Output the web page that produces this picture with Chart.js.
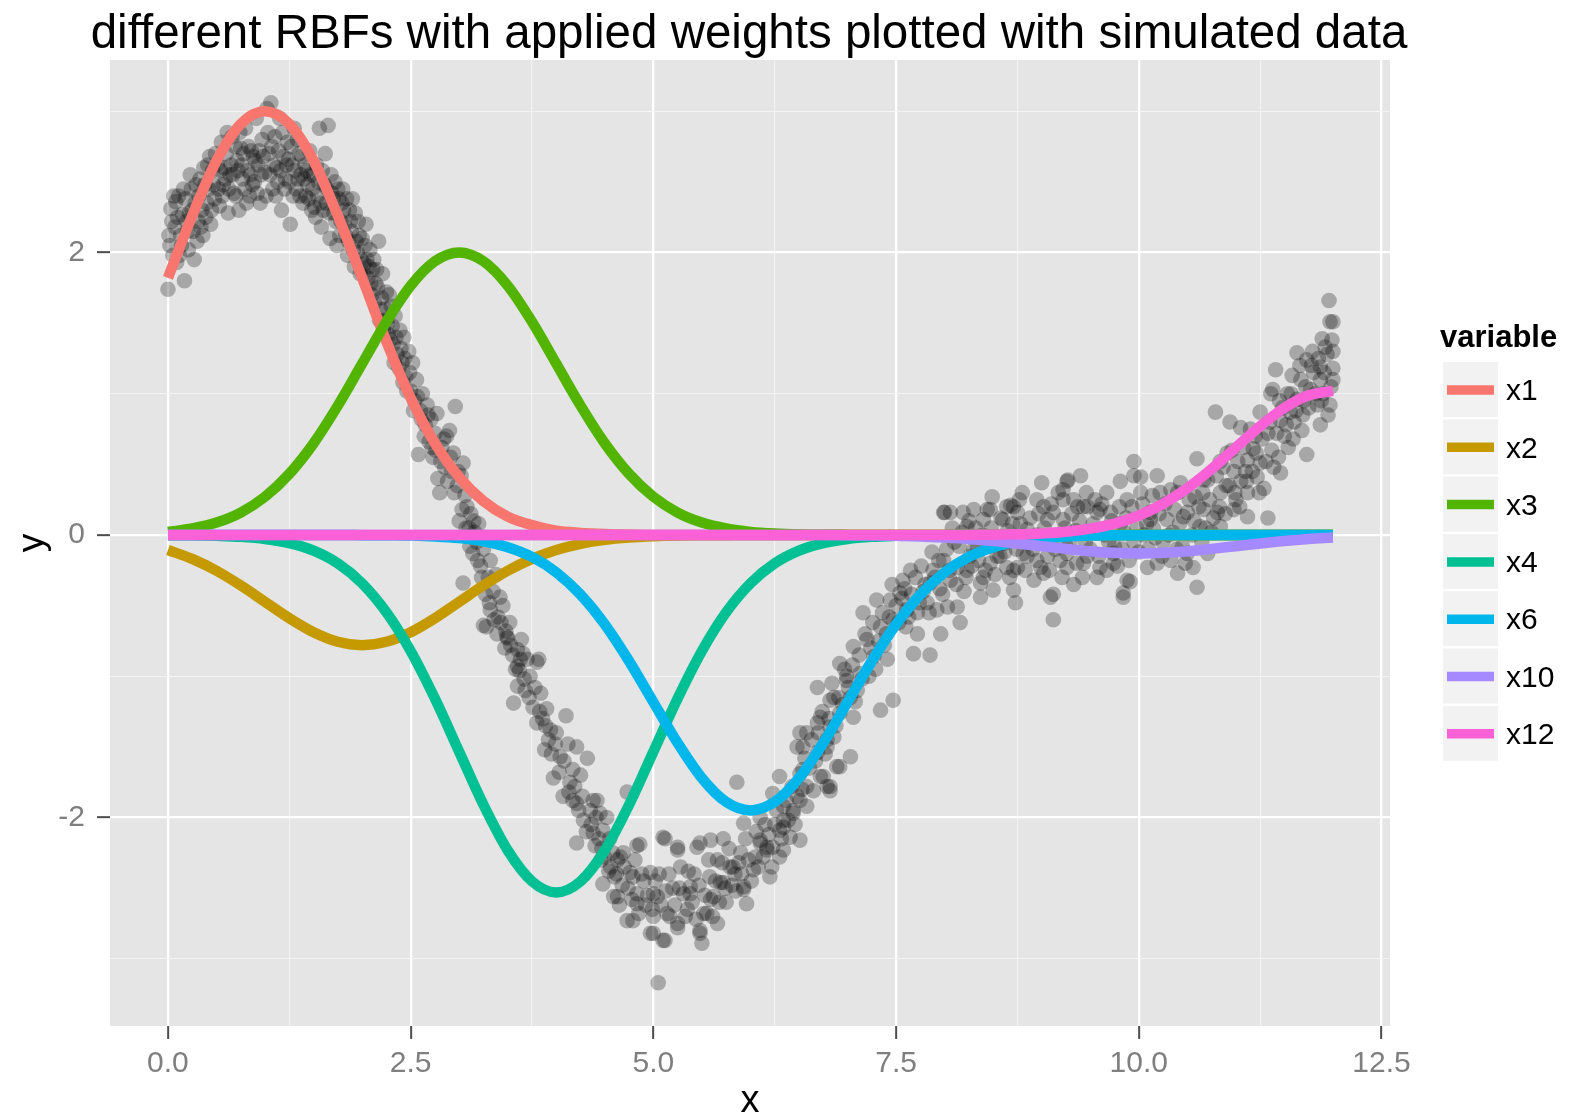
<!DOCTYPE html>
<html>
<head>
<meta charset="utf-8">
<script src="https://cdn.jsdelivr.net/npm/chart.js@4/dist/chart.umd.min.js"></script>
<style>
  html, body { margin: 0; padding: 0; background: #ffffff; }
  canvas { display: block; }
</style>
</head>
<body>
<canvas id="rbf" width="1572" height="1119"></canvas>
<script>
// ---- data ----
const chartTitle = 'different RBFs with applied weights plotted with simulated data';
const legendTitle = 'variable';
const xAxisTitle = 'x';
const yAxisTitle = 'y';

// sample positions of the weighted basis curves
const gridX = [0,0.25,0.5,0.75,1,1.25,1.5,1.75,2,2.25,2.5,2.75,3,3.25,3.5,3.75,4,4.25,4.5,4.75,5,5.25,5.5,5.75,6,6.25,6.5,6.75,7,7.25,7.5,7.75,8,8.25,8.5,8.75,9,9.25,9.5,9.75,10,10.25,10.5,10.75,11,11.25,11.5,11.75,12];

const rbfX1 = [1.82,2.26,2.65,2.91,3.00,2.91,2.65,2.26,1.82,1.37,0.97,0.65,0.41,0.24,0.13,0.07,0.03,0.015,0.007,0.003,0.001,0,0,0,0,0,0,0,0,0,0,0,0,0,0,0,0,0,0,0,0,0,0,0,0,0,0,0,0];
const rbfX2 = [-0.106,-0.169,-0.253,-0.357,-0.473,-0.589,-0.688,-0.756,-0.78,-0.756,-0.688,-0.589,-0.473,-0.357,-0.253,-0.169,-0.106,-0.062,-0.034,-0.018,-0.009,-0.004,-0.002,-0.001,0,0,0,0,0,0,0,0,0,0,0,0,0,0,0,0,0,0,0,0,0,0,0,0,0];
const rbfX3 = [0.022,0.046,0.088,0.159,0.271,0.433,0.649,0.916,1.213,1.510,1.765,1.938,2.0,1.938,1.765,1.510,1.213,0.916,0.649,0.433,0.271,0.159,0.088,0.046,0.022,0.010,0.004,0.002,0.001,0,0,0,0,0,0,0,0,0,0,0,0,0,0,0,0,0,0,0,0];
const rbfX4 = [-0.001,-0.002,-0.006,-0.013,-0.028,-0.058,-0.111,-0.201,-0.342,-0.547,-0.821,-1.158,-1.534,-1.910,-2.233,-2.452,-2.53,-2.452,-2.233,-1.910,-1.534,-1.158,-0.821,-0.547,-0.342,-0.201,-0.111,-0.058,-0.028,-0.013,-0.006,-0.002,-0.001,0,0,0,0,0,0,0,0,0,0,0,0,0,0,0,0];
const rbfX6 = [0,0,0,0,0,0,0,0,-0.001,-0.002,-0.004,-0.010,-0.022,-0.044,-0.086,-0.155,-0.264,-0.422,-0.633,-0.893,-1.183,-1.472,-1.721,-1.890,-1.95,-1.890,-1.721,-1.472,-1.183,-0.893,-0.633,-0.422,-0.264,-0.155,-0.086,-0.044,-0.022,-0.010,-0.004,-0.002,-0.001,0,0,0,0,0,0,0,0];
const rbfX10 = [0,0,0,0,0,0,0,0,0,0,0,0,0,0,0,0,0,0,0,0,0,0,0,0,0,0,0,0,-0.001,-0.003,-0.006,-0.010,-0.018,-0.028,-0.042,-0.060,-0.079,-0.098,-0.115,-0.126,-0.13,-0.126,-0.115,-0.098,-0.079,-0.060,-0.042,-0.028,-0.018];
const rbfX12 = [0,0,0,0,0,0,0,0,0,0,0,0,0,0,0,0,0,0,0,0,0,0,0,0,0,0,0,0,0,0,0,0,0.0003,0.001,0.002,0.005,0.011,0.023,0.045,0.081,0.138,0.221,0.331,0.467,0.619,0.770,0.900,0.989,1.02];

const seriesNames = ['x1','x2','x3','x4','x6','x10','x12'];
const seriesValues = [rbfX1, rbfX2, rbfX3, rbfX4, rbfX6, rbfX10, rbfX12];
const seriesColors = ['#F8766D','#C49A00','#53B400','#00C094','#00B6EB','#A58AFF','#FB61D7'];

const xMajorTicks = [0, 2.5, 5, 7.5, 10, 12.5];
const xMinorTicks = [1.25, 3.75, 6.25, 8.75, 11.25];
const yMajorTicks = [-2, 0, 2];
const yMinorTicks = [-3, -1, 1, 3];

// simulated observations [x, y]
const simPoints = [
[0.00,1.74],[0.02,2.05],[0.03,2.31],[0.04,2.22],[0.05,1.98],[0.07,2.18],[0.08,2.36],[0.09,1.93],[0.11,2.40],[0.12,1.98],[0.13,2.12],[0.15,2.27],[0.16,2.45],[0.17,1.80],[0.19,2.22],[0.21,2.02],[0.22,2.28],[0.24,2.45],[0.26,2.15],[0.27,1.95],[0.28,2.35],[0.30,2.08],[0.33,2.52],[0.34,2.18],[0.35,2.30],[0.37,2.60],[0.39,2.25],[0.41,2.62],[0.42,2.45],[0.44,2.20],[0.46,2.58],[0.48,2.38],
[0.51,2.62],[0.53,2.33],[0.55,2.78],[0.57,2.48],[0.58,2.60],[0.60,2.70],[0.62,2.28],[0.64,2.55],[0.66,2.82],[0.68,2.42],[0.69,2.75],[0.71,2.65],[0.73,2.30],[0.75,2.74],[0.77,2.52],[0.79,2.45],[0.80,2.88],[0.82,2.58],[0.84,2.40],[0.86,2.72],[0.88,2.68],[0.89,2.50],[0.91,2.95],[0.93,2.62],[0.95,2.35],[0.97,2.80],
[1.00,2.57],[1.02,3.02],[1.03,2.85],[1.04,2.70],[1.06,3.06],[1.08,2.45],[1.10,2.82],[1.12,2.60],[1.13,2.50],[1.15,2.95],[1.17,2.30],[1.19,2.68],[1.21,2.52],[1.23,2.78],[1.24,2.66],[1.26,2.20],[1.28,2.62],[1.30,2.88],[1.32,2.45],[1.33,2.80],[1.35,2.70],[1.37,2.55],[1.39,2.35],[1.41,2.62],[1.42,2.40],[1.44,2.48],[1.46,2.72],[1.48,2.30],
[1.50,2.55],[1.52,2.25],[1.53,2.62],[1.54,2.40],[1.56,2.88],[1.58,2.18],[1.61,2.48],[1.62,2.70],[1.63,2.35],[1.65,2.90],[1.67,2.10],[1.69,2.42],[1.71,2.28],[1.72,2.50],[1.74,2.05],[1.76,2.38],[1.78,2.22],[1.80,2.45],[1.81,2.30],[1.83,2.12],[1.85,1.98],[1.87,2.30],[1.89,2.15],[1.90,2.38],[1.92,1.90],[1.94,2.08],[1.96,2.22],[1.98,1.85],
[2.00,2.10],[2.02,1.92],[2.04,2.20],[2.05,1.95],[2.06,1.82],[2.08,2.02],[2.10,1.70],[2.12,1.95],[2.14,1.78],[2.15,1.88],[2.17,2.08],[2.19,1.60],[2.21,1.85],[2.23,1.52],[2.25,1.72],[2.27,1.42],[2.28,1.70],[2.30,1.62],[2.32,1.35],[2.34,1.55],[2.36,1.28],[2.39,1.45],[2.41,1.22],[2.43,1.40],[2.45,1.12],[2.48,1.30],
[2.50,1.02],[2.52,1.22],[2.54,0.95],[2.56,1.10],[2.58,0.57],[2.60,0.88],[2.62,1.00],[2.65,0.78],[2.67,0.92],[2.69,0.66],[2.71,0.82],[2.73,0.55],[2.75,0.72],[2.77,0.86],[2.78,0.40],[2.80,0.30],[2.82,0.62],[2.85,0.48],[2.87,0.70],[2.90,0.74],[2.92,0.45],[2.94,0.58],[2.96,0.91],[2.98,0.35],
[3.00,0.10],[3.02,0.42],[3.04,0.51],[3.04,-0.34],[3.06,0.28],[3.08,0.20],[3.10,0.05],[3.12,0.15],[3.14,-0.13],[3.16,0.02],[3.18,-0.05],[3.20,0.08],[3.22,-0.22],[3.25,-0.10],[3.25,-0.64],[3.28,-0.65],[3.30,-0.30],[3.32,-0.18],[3.32,-0.53],[3.35,-0.40],[3.38,-0.28],[3.40,-0.58],[3.42,-0.44],[3.45,-0.50],[3.48,-0.68],
[3.49,-0.72],[3.50,-0.73],[3.52,-0.62],[3.55,-0.85],[3.56,-1.19],[3.60,-0.81],[3.60,-0.93],[3.60,-1.07],[3.62,-0.96],[3.64,-0.74],[3.66,-0.84],[3.68,-1.10],[3.70,-0.88],[3.73,-1.00],[3.76,-1.22],[3.80,-0.90],[3.80,-1.33],[3.82,-0.88],[3.84,-1.12],[3.86,-1.30],[3.88,-1.52],[3.90,-1.23],[3.92,-1.45],[3.94,-1.38],[3.97,-1.72],[4.00,-1.40],[4.04,-1.57],[4.07,-1.85],[4.10,-1.28],[4.12,-1.48],[4.14,-1.75],[4.17,-1.66],[4.17,-1.88],[4.21,-1.50],[4.21,-1.90],[4.21,-2.18],[4.25,-1.70],[4.28,-2.02],[4.32,-1.58],[4.35,-1.95],[4.38,-1.88],[4.38,-2.11],[4.40,-2.20],[4.42,-1.88],[4.45,-1.97],[4.46,-2.30],[4.48,-2.09],[4.48,-2.47],
[4.52,-2.00],[4.55,-2.15],[4.56,-2.35],[4.59,-2.56],[4.60,-2.42],[4.63,-2.30],[4.63,-2.56],[4.66,-2.28],[4.68,-2.48],[4.69,-2.25],[4.73,-1.82],[4.73,-2.73],[4.76,-2.39],[4.79,-2.42],[4.79,-2.73],[4.83,-2.20],[4.83,-2.54],[4.83,-2.61],[4.86,-2.19],[4.90,-2.45],[4.92,-2.62],[4.97,-2.39],[4.97,-2.82],[5.00,-2.54],[5.00,-2.70],[5.00,-2.82],[5.04,-2.56],[5.05,-3.17],[5.06,-2.40],[5.10,-2.14],[5.10,-2.87],[5.12,-2.15],[5.12,-2.87],[5.14,-2.68],[5.17,-2.70],[5.20,-2.50],[5.25,-2.21],[5.25,-2.23],[5.25,-2.75],[5.25,-2.78],[5.28,-2.35],[5.31,-2.54],[5.35,-2.65],[5.38,-2.49],[5.38,-2.54],[5.42,-2.40],[5.45,-2.21],[5.48,-2.18],[5.48,-2.80],[5.48,-2.82],[5.50,-2.89],[5.52,-2.68],[5.55,-2.68],[5.58,-2.42],[5.59,-2.16],[5.59,-2.58],[5.62,-2.56],[5.66,-2.30],[5.66,-2.75],[5.69,-2.46],[5.72,-2.15],[5.72,-2.46],[5.75,-2.60],[5.79,-2.35],[5.82,-2.35],[5.85,-2.52],[5.86,-1.75],[5.90,-2.25],[5.93,-2.04],[5.93,-2.49],[5.93,-2.51],[5.96,-2.61],[6.03,-2.37],[6.05,-2.28],[6.10,-2.00],[6.10,-2.16],[6.10,-2.18],[6.17,-2.21],[6.17,-2.23],[6.20,-2.42],[6.23,-1.83],[6.23,-2.21],[6.25,-2.05],[6.30,-1.71],[6.30,-2.09],[6.30,-2.28],[6.34,-1.92],[6.34,-2.02],[6.34,-2.07],[6.34,-2.23],[6.41,-2.14],[6.44,-1.95],[6.44,-1.97],[6.48,-1.50],[6.48,-1.85],
[6.51,-1.40],[6.51,-1.69],[6.51,-1.88],[6.51,-2.16],[6.54,-1.50],[6.54,-1.66],[6.58,-1.40],[6.58,-1.78],[6.58,-1.92],[6.65,-1.81],[6.69,-1.08],[6.69,-1.33],[6.69,-1.54],[6.72,-1.29],[6.72,-1.71],[6.75,-1.71],[6.79,-1.45],[6.79,-1.50],[6.79,-1.78],[6.82,-1.17],[6.82,-1.36],[6.82,-1.78],[6.82,-1.81],[6.86,-1.15],[6.86,-1.43],[6.89,-1.64],[6.92,-0.91],[6.92,-1.26],[6.92,-1.64],[6.99,-1.00],[6.99,-1.03],[7.03,-1.15],[7.03,-1.57],[7.06,-0.79],[7.06,-1.29],[7.10,-1.10],[7.13,-0.98],[7.16,-0.55],[7.20,-0.74],[7.22,-1.00],[7.27,-0.86],[7.30,-0.46],[7.34,-0.65],[7.34,-1.24],[7.38,-0.78],[7.41,-0.88],[7.44,-0.46],[7.47,-0.60],[7.47,-1.17],
[7.54,-0.41],[7.57,-0.32],[7.60,-0.65],[7.61,-0.53],[7.65,-0.25],[7.68,-0.84],[7.72,-0.55],[7.72,-0.70],[7.78,-0.40],[7.82,-0.48],[7.85,-0.34],[7.85,-0.85],[7.88,-0.25],[7.92,-0.53],[7.95,-0.38],[7.96,-0.70],[7.99,-0.18],[7.99,0.16],[8.00,0.16],[8.03,-0.51],[8.06,-0.32],[8.06,0.16],[8.10,-0.05],[8.13,-0.23],[8.13,-0.51],[8.16,-0.62],[8.19,0.16],[8.20,-0.40],[8.23,-0.25],[8.23,0.06],[8.26,-0.15],[8.30,0.18],[8.30,-0.10],[8.34,-0.08],[8.37,-0.34],[8.37,-0.44],[8.40,-0.30],[8.40,0.11],[8.44,0.18],[8.45,-0.08],[8.47,-0.20],[8.47,0.18],[8.49,0.27],[8.50,-0.39],[8.54,-0.15],[8.55,-0.02],[8.57,-0.15],[8.60,0.11],[8.61,-0.06],[8.64,-0.23],[8.64,0.20],[8.65,0.03],[8.68,0.21],[8.71,-0.25],[8.71,-0.39],[8.71,0.20],[8.73,-0.48],[8.75,-0.23],[8.75,0.16],[8.78,0.08],[8.80,0.30],[8.81,-0.13],[8.85,-0.15],[8.85,0.04],[8.85,-0.05],[8.92,-0.32],[8.95,-0.18],[8.95,0.25],[8.95,0.00],[8.99,-0.23],
[9.00,0.37],[9.02,-0.27],[9.02,0.20],[9.05,-0.05],[9.06,-0.15],[9.06,0.11],[9.09,-0.44],[9.12,-0.42],[9.12,-0.60],[9.12,0.16],[9.15,0.00],[9.19,-0.18],[9.22,0.11],[9.22,0.25],[9.22,0.32],[9.25,-0.08],[9.26,-0.13],[9.26,-0.23],[9.26,0.38],[9.27,0.39],[9.33,-0.35],[9.33,0.25],[9.35,0.03],[9.37,0.20],[9.40,0.42],[9.43,-0.20],[9.43,0.20],[9.45,-0.05],[9.47,-0.15],[9.47,0.01],[9.47,0.20],[9.57,-0.30],[9.57,0.16],[9.60,-0.23],[9.60,0.18],[9.63,0.04],[9.65,0.00],[9.67,-0.25],[9.67,0.30],[9.71,0.16],[9.74,-0.13],[9.74,-0.20],[9.75,-0.08],[9.81,0.08],[9.81,0.38],[9.84,-0.41],[9.84,-0.44],[9.85,0.02],[9.88,-0.32],[9.88,0.25],[9.91,-0.33],[9.95,-0.05],[9.95,0.42],[9.95,0.52],
[10.02,0.30],[10.02,0.41],[10.05,0.00],[10.09,-0.23],[10.12,0.11],[10.12,0.16],[10.15,0.05],[10.19,-0.20],[10.19,0.42],[10.22,0.30],[10.25,-0.05],[10.29,0.11],[10.33,-0.18],[10.33,0.32],[10.35,0.02],[10.40,-0.27],[10.40,0.30],[10.43,0.37],[10.45,-0.08],[10.46,0.13],[10.50,-0.13],[10.50,0.16],[10.55,0.00],[10.56,-0.23],[10.58,0.27],[10.60,-0.37],[10.60,0.54],[10.63,0.06],[10.65,-0.05],[10.67,0.18],[10.67,0.39],[10.71,-0.13],[10.71,0.39],[10.75,0.02],[10.79,0.87],[10.81,0.16],[10.84,0.06],[10.84,0.30],[10.84,0.52],[10.90,0.35],[10.91,0.58],[10.94,0.80],[10.98,0.18],[10.98,0.45],
[11.00,0.25],[11.05,0.38],[11.05,0.76],[11.10,0.45],[11.12,0.13],[11.12,0.30],[11.12,0.53],[11.18,0.61],[11.20,0.70],[11.22,0.41],[11.25,0.51],[11.25,0.87],[11.29,0.33],[11.33,0.12],[11.33,0.72],[11.36,1.00],[11.38,1.03],[11.39,0.48],[11.41,1.17],[11.45,0.95],[11.46,0.44],[11.46,0.81],[11.50,0.70],[11.53,1.00],[11.54,0.62],[11.56,0.87],[11.58,1.13],[11.60,0.80],[11.63,0.96],[11.63,1.29],[11.67,1.10],[11.68,0.74],[11.70,0.95],[11.73,0.57],[11.73,1.24],[11.77,1.03],[11.79,1.30],[11.80,1.15],[11.84,0.92],[11.87,0.78],[11.87,1.10],[11.87,1.19],[11.89,1.39],[11.90,1.00],[11.92,1.33],[11.95,0.85],[11.96,1.66],[11.97,0.92],[11.97,1.51],[11.99,1.38],[12.00,1.10],[12.00,1.51],[12.00,1.18],
[0.01,2.12],[0.06,2.40],[0.10,2.25],[0.14,2.05],[0.18,2.38],[0.20,2.15],[0.23,2.55],[0.25,2.30],[0.29,2.48],[0.31,2.22],[0.32,2.40],[0.36,2.12],[0.38,2.48],[0.40,2.35],[0.43,2.68],[0.45,2.30],[0.47,2.48],[0.49,2.70],[0.52,2.45],[0.54,2.58],[0.56,2.40],[0.59,2.52],[0.61,2.85],[0.63,2.45],[0.65,2.62],[0.67,2.55],[0.70,2.40],[0.72,2.58],[0.74,2.85],[0.76,2.62],[0.78,2.70],[0.81,2.35],[0.83,2.75],[0.85,2.55],[0.87,2.48],[0.90,2.65],[0.92,2.42],[0.94,2.72],[0.96,2.55],[0.98,2.68],
[1.01,2.40],[1.05,2.55],[1.07,2.75],[1.09,2.62],[1.11,2.40],[1.14,2.72],[1.16,2.58],[1.18,2.85],[1.20,2.45],[1.22,2.62],[1.25,2.50],[1.27,2.75],[1.29,2.40],[1.31,2.58],[1.34,2.52],[1.36,2.40],[1.38,2.68],[1.40,2.52],[1.43,2.58],[1.45,2.38],[1.47,2.55],[1.49,2.45],[1.51,2.32],[1.55,2.50],[1.57,2.35],[1.59,2.58],[1.60,2.30],[1.64,2.45],[1.66,2.28],[1.68,2.55],[1.70,2.38],[1.73,2.22],[1.75,2.45],[1.77,2.12],[1.79,2.35],[1.82,2.20],[1.84,2.38],[1.86,2.08],[1.88,2.22],[1.91,2.02],[1.93,2.28],[1.95,2.00],[1.97,2.12],[1.99,1.95],
[2.01,1.85],[2.03,2.05],[2.07,1.90],[2.09,1.78],[2.11,1.88],[2.13,1.65],[2.16,1.75],[2.18,1.52],[2.20,1.68],[2.22,1.45],[2.24,1.60],[2.26,1.50],[2.29,1.38],[2.31,1.48],[2.33,1.22],[2.35,1.40],[2.38,1.18],[2.40,1.32],[2.42,1.08],[2.44,1.25],[2.46,1.02],[2.49,1.15],[2.53,0.88],[2.57,0.98],[2.61,0.82],[2.64,0.70],[2.68,0.85],[2.72,0.62],[2.76,0.60],[2.81,0.52],[2.84,0.68],[2.88,0.38],[2.91,0.55],[2.95,0.30],[2.99,0.45],
[3.03,0.18],[3.07,0.05],[3.11,-0.08],[3.15,0.10],[3.19,-0.18],[3.23,-0.30],[3.27,-0.42],[3.31,-0.48],[3.36,-0.60],[3.39,-0.70],[3.43,-0.62],[3.47,-0.80],[3.53,-0.78],[3.58,-0.95],[3.63,-0.88],[3.67,-1.02],[3.72,-1.15],[3.78,-1.08],[3.83,-1.25],[3.89,-1.35],[3.95,-1.55],[3.99,-1.48],[4.03,-1.68],[4.08,-1.60],[4.13,-1.82],[4.19,-1.78],[4.23,-1.95],[4.27,-1.85],[4.31,-2.10],[4.36,-2.05],[4.41,-2.00],[4.44,-2.15],[4.47,-2.22],[4.50,-2.28],
[4.54,-2.38],[4.58,-2.25],[4.62,-2.40],[4.65,-2.62],[4.70,-2.35],[4.74,-2.50],[4.78,-2.58],[4.81,-2.30],[4.85,-2.68],[4.88,-2.40],[4.94,-2.55],[4.99,-2.65],[5.02,-2.45],[5.08,-2.62],[5.13,-2.52],[5.16,-2.40],[5.22,-2.62],[5.27,-2.50],[5.33,-2.70],[5.36,-2.38],[5.40,-2.60],[5.44,-2.72],[5.47,-2.48],[5.53,-2.55],[5.57,-2.30],[5.61,-2.70],[5.64,-2.45],[5.68,-2.60],[5.71,-2.32],[5.74,-2.50],[5.78,-2.22],[5.81,-2.48],[5.84,-2.40],[5.88,-2.32],[5.91,-2.40],[5.95,-2.15],[5.98,-2.30],[6.01,-2.45],[6.06,-2.10],[6.08,-2.35],[6.13,-2.28],[6.15,-2.05],[6.19,-2.12],[6.22,-2.35],[6.27,-1.95],[6.32,-2.15],[6.37,-1.88],[6.39,-2.02],[6.43,-1.78],[6.46,-2.05],
[6.53,-1.80],[6.56,-1.58],[6.61,-1.65],[6.63,-1.45],[6.67,-1.60],[6.70,-1.40],[6.74,-1.25],[6.77,-1.55],[6.81,-1.30],[6.84,-1.05],[6.88,-1.35],[6.91,-1.15],[6.95,-1.20],[6.97,-0.95],[7.01,-1.08],[7.05,-0.92],[7.08,-1.18],[7.12,-0.85],[7.15,-1.02],[7.18,-0.70],[7.24,-0.80],[7.26,-0.62],[7.29,-0.95],[7.32,-0.75],[7.36,-0.55],[7.40,-0.70],[7.43,-0.58],[7.46,-0.35],[7.50,-0.50],[7.53,-0.62],[7.56,-0.45],[7.59,-0.38],[7.63,-0.58],[7.66,-0.42],[7.70,-0.30],[7.74,-0.48],[7.76,-0.22],[7.80,-0.35],[7.84,-0.55],[7.87,-0.12],[7.90,-0.30],[7.94,-0.18],[7.98,-0.42],
[8.02,-0.10],[8.05,-0.25],[8.08,0.05],[8.12,-0.35],[8.15,-0.08],[8.18,0.02],[8.22,-0.30],[8.25,0.10],[8.28,-0.22],[8.32,0.05],[8.35,-0.18],[8.39,0.00],[8.42,-0.25],[8.48,0.05],[8.52,-0.28],[8.58,0.12],[8.62,-0.12],[8.67,-0.30],[8.70,0.08],[8.74,-0.10],[8.77,0.25],[8.83,-0.25],[8.88,0.12],[8.91,-0.10],[8.97,0.15],
[9.03,0.05],[9.08,-0.25],[9.10,0.22],[9.14,-0.10],[9.17,0.30],[9.21,-0.30],[9.24,0.05],[9.29,-0.05],[9.31,0.15],[9.36,-0.20],[9.39,0.10],[9.42,-0.30],[9.46,0.30],[9.50,-0.10],[9.53,0.08],[9.55,0.25],[9.59,-0.15],[9.62,0.22],[9.69,-0.05],[9.72,0.10],[9.78,-0.22],[9.80,0.20],[9.83,-0.10],[9.87,0.12],[9.90,-0.18],[9.93,0.20],[9.98,0.05],[10.00,-0.12],[10.04,0.22],[10.08,0.08],[10.10,-0.10],[10.14,0.28],[10.17,-0.02],[10.21,0.15],[10.24,-0.15],[10.27,0.22],[10.31,0.00],[10.37,0.18],[10.39,-0.10],[10.42,0.08],[10.48,-0.20],[10.52,0.25],[10.57,0.10],[10.62,0.20],
[10.66,0.30],[10.69,0.05],[10.73,0.25],[10.77,0.12],[10.80,0.42],[10.83,0.20],[10.87,0.48],[10.89,0.15],[10.93,0.35],[10.96,0.60],[10.99,0.30],[11.02,0.52],[11.04,0.20],[11.08,0.62],[11.11,0.38],[11.15,0.75],[11.17,0.45],[11.21,0.58],[11.24,0.30],[11.27,0.68],[11.31,0.52],[11.35,0.80],[11.37,0.60],[11.42,0.72],[11.44,0.55],[11.48,0.90],[11.52,0.78],[11.57,1.00],[11.59,0.68],[11.62,0.88],[11.66,1.20],[11.69,0.85],[11.72,1.05],[11.75,0.90],[11.78,1.20],[11.82,1.00],[11.85,1.25],[11.88,0.95],[11.91,1.15],[11.94,1.28],[11.98,1.05],[12.00,1.30]
];

// ---- drawing ----
const FONT = '"Liberation Sans", Arial, Helvetica, sans-serif';
Chart.defaults.font.family = FONT;

const isIn = (list, v) => list.some(t => Math.abs(t - v) < 1e-9);

// grey plotting panel behind the grid
const panelBackground = {
  id: 'panelBackground',
  beforeDraw(chart) {
    const { ctx, chartArea: a } = chart;
    ctx.save();
    ctx.fillStyle = '#E5E5E5';
    ctx.fillRect(a.left, a.top, a.right - a.left, a.bottom - a.top);
    ctx.restore();
  }
};

// chart heading, centred above the whole figure
const heading = {
  id: 'heading',
  afterDraw(chart) {
    const ctx = chart.ctx;
    ctx.save();
    ctx.fillStyle = '#000000';
    ctx.font = '47.5px ' + FONT;
    ctx.textAlign = 'center';
    ctx.textBaseline = 'alphabetic';
    ctx.fillText(chartTitle, 749, 48);
    ctx.restore();
  }
};

// legend with grey key boxes on the right
const keyLegend = {
  id: 'keyLegend',
  afterDraw(chart) {
    const ctx = chart.ctx;
    ctx.save();
    ctx.fillStyle = '#000000';
    ctx.font = 'bold 31px ' + FONT;
    ctx.textAlign = 'left';
    ctx.textBaseline = 'alphabetic';
    ctx.fillText(legendTitle, 1440, 347);
    const lines = chart.data.datasets.filter(d => d.type === 'line');
    lines.forEach((d, i) => {
      const top = 362 + i * 57.3;
      ctx.fillStyle = '#F2F2F2';
      ctx.fillRect(1443, top, 55, 55);
      ctx.strokeStyle = d.borderColor;
      ctx.lineWidth = 9.5;
      ctx.lineCap = 'butt';
      ctx.beginPath();
      ctx.moveTo(1447, top + 28);
      ctx.lineTo(1494, top + 28);
      ctx.stroke();
      ctx.fillStyle = '#000000';
      ctx.font = '30px ' + FONT;
      ctx.textBaseline = 'middle';
      ctx.fillText(d.label, 1506, top + 30);
    });
    ctx.restore();
  }
};

const curveDatasets = seriesValues.map((vals, i) => ({
  type: 'line',
  label: seriesNames[i],
  data: gridX.map((x, j) => ({ x: x, y: vals[j] })),
  borderColor: seriesColors[i],
  backgroundColor: seriesColors[i],
  borderWidth: 10.5,
  borderCapStyle: 'butt',
  borderJoinStyle: 'round',
  pointRadius: 0,
  pointHoverRadius: 0,
  cubicInterpolationMode: 'monotone',
  fill: false,
  showLine: true,
  order: seriesNames.length - i
}));

const scatterDataset = {
  type: 'scatter',
  label: 'observed',
  data: simPoints.map(p => ({ x: p[0], y: p[1] })),
  backgroundColor: 'rgba(0,0,0,0.27)',
  borderWidth: 0,
  pointRadius: 7.8,
  pointHoverRadius: 7.8,
  order: 100
};

function gridStyle(major) {
  return {
    color: c => isIn(major, c.tick.value) ? '#FFFFFF' : '#F3F3F3',
    lineWidth: c => isIn(major, c.tick.value) ? 2.3 : 1.1,
    tickColor: c => isIn(major, c.tick.value) ? '#4D4D4D' : 'rgba(0,0,0,0)',
    tickWidth: 2,
    tickLength: 13,
    drawTicks: true,
    drawOnChartArea: true
  };
}

new Chart(document.getElementById('rbf'), {
  type: 'scatter',
  data: { datasets: [...curveDatasets, scatterDataset] },
  options: {
    responsive: false,
    animation: false,
    devicePixelRatio: 1,
    events: [],
    layout: { padding: { top: 60, right: 182, bottom: 0, left: 0 } },
    plugins: {
      legend: { display: false },
      title: { display: false },
      tooltip: { enabled: false }
    },
    scales: {
      x: {
        type: 'linear',
        min: -0.597,
        max: 12.588,
        afterBuildTicks: s => { s.ticks = [...xMajorTicks, ...xMinorTicks].sort((a, b) => a - b).map(v => ({ value: v })); },
        afterFit: s => { s.height = 93; },
        border: { display: false },
        grid: gridStyle(xMajorTicks),
        ticks: {
          autoSkip: false,
          maxRotation: 0,
          padding: 7,
          color: '#7F7F7F',
          font: { size: 30 },
          callback: v => isIn(xMajorTicks, v) ? v.toFixed(1) : ''
        },
        title: {
          display: true,
          text: xAxisTitle,
          color: '#000000',
          font: { size: 38, lineHeight: 1 },
          padding: { top: 0, bottom: -2 }
        }
      },
      y: {
        type: 'linear',
        min: -3.476,
        max: 3.363,
        afterBuildTicks: s => { s.ticks = [...yMajorTicks, ...yMinorTicks].sort((a, b) => a - b).map(v => ({ value: v })); },
        afterFit: s => { s.width = 110; },
        border: { display: false },
        grid: gridStyle(yMajorTicks),
        ticks: {
          autoSkip: false,
          padding: 12,
          color: '#7F7F7F',
          font: { size: 30 },
          callback: v => isIn(yMajorTicks, v) ? String(v) : ''
        },
        title: {
          display: true,
          text: yAxisTitle,
          color: '#000000',
          font: { size: 37 },
          padding: { top: 11, bottom: 0 }
        }
      }
    }
  },
  plugins: [panelBackground, heading, keyLegend]
});
</script>
</body>
</html>
